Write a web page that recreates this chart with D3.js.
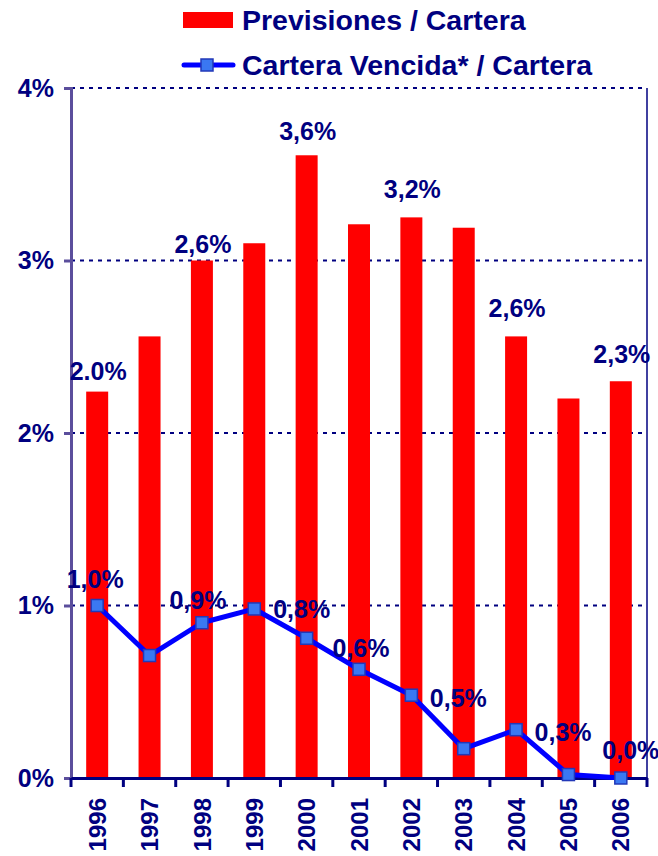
<!DOCTYPE html>
<html>
<head>
<meta charset="utf-8">
<script src="https://cdn.jsdelivr.net/npm/d3@7"></script>
<style>
  body { margin: 0; background: #fff; }
  text { font-family: "Liberation Sans", Arial, sans-serif; font-weight: bold; fill: #000080; }
</style>
</head>
<body>
<div id="chart"></div>
<script>
// categories
var years = ["1996", "1997", "1998", "1999", "2000", "2001", "2002", "2003", "2004", "2005", "2006"];
// Previsiones / Cartera (bars)
var previsiones = [0.0224, 0.0256, 0.0300, 0.0310, 0.0361, 0.0321, 0.0325, 0.0319, 0.0256, 0.0220, 0.0230];
// Cartera Vencida* / Cartera (line)
var vencida = [0.0100, 0.0071, 0.0090, 0.0098, 0.0081, 0.0063, 0.0048, 0.0017, 0.0028, 0.0002, 0.0000];
// data labels as printed
var barLabels = ["2.0%", "", "2,6%", "", "3,6%", "", "3,2%", "", "2,6%", "", "2,3%"];
var lineLabels = ["1,0%", "", "0,9%", "", "0,8%", "0,6%", "0,5%", "", "0,3%", "", "0,0%"];
// y ticks
var yTicks = [0, 0.01, 0.02, 0.03, 0.04];
var yTickLabels = ["0%", "1%", "2%", "3%", "4%"];

var svgWidth = 658;
var svgHeight = 856;
var margin = { left: 71, top: 88, right: 11, bottom: 78 };
var chartWidth = svgWidth - margin.left - margin.right;
var chartHeight = svgHeight - margin.top - margin.bottom;

var svg = d3.select("#chart").append("svg")
    .attr("width", svgWidth)
    .attr("height", svgHeight);

var chartGroup = svg.append("g")
    .attr("transform", `translate(${margin.left}, ${margin.top})`);

var xScale = d3.scaleBand()
    .domain(years)
    .range([0, chartWidth])
    .paddingInner(0.58)
    .paddingOuter(0.29);

var xPoint = d => xScale(d) + xScale.bandwidth() / 2;

var yScale = d3.scaleLinear()
    .domain([0, 0.04])
    .range([chartHeight, 0]);

// dotted grid lines
chartGroup.append("g")
    .selectAll("line")
    .data(yTicks.slice(1))
    .enter()
    .append("line")
    .attr("x1", 0)
    .attr("x2", chartWidth)
    .attr("y1", d => yScale(d))
    .attr("y2", d => yScale(d))
    .attr("stroke", "#000080")
    .attr("stroke-width", 2)
    .attr("stroke-dasharray", "4,5");

// right border
chartGroup.append("line")
    .attr("x1", chartWidth).attr("x2", chartWidth)
    .attr("y1", 0).attr("y2", chartHeight)
    .attr("stroke", "#000080")
    .attr("stroke-width", 1.5);

// bars
chartGroup.selectAll("rect.bar")
    .data(previsiones)
    .enter()
    .append("rect")
    .attr("class", "bar")
    .attr("x", (d, i) => xScale(years[i]))
    .attr("y", d => yScale(d))
    .attr("width", xScale.bandwidth())
    .attr("height", d => chartHeight - yScale(d))
    .attr("fill", "#ff0000");

// y axis
var yAxis = d3.axisLeft(yScale)
    .tickValues(yTicks)
    .tickFormat((d, i) => yTickLabels[i])
    .tickSize(7)
    .tickPadding(10);

var yAxisGroup = chartGroup.append("g").call(yAxis);
yAxisGroup.select(".domain").attr("stroke", "#5b4e9c").attr("stroke-width", 3);
yAxisGroup.selectAll(".tick line").attr("stroke", "#5b4e9c").attr("stroke-width", 3);
yAxisGroup.selectAll(".tick text")
    .attr("font-size", "25px")
    .attr("font-family", null);

// x axis (labels only, ticks at band boundaries)
var xAxis = d3.axisBottom(xScale).tickSize(0);
var xAxisGroup = chartGroup.append("g")
    .attr("transform", `translate(0, ${chartHeight})`)
    .call(xAxis);
xAxisGroup.select(".domain").attr("stroke", "#000080").attr("stroke-width", 3);
xAxisGroup.selectAll(".tick text")
    .attr("font-size", "24px")
    .attr("font-family", null)
    .attr("text-anchor", "end")
    .attr("transform", "rotate(-90)")
    .attr("x", -20)
    .attr("y", 0)
    .attr("dy", "0.36em");

var step = xScale.step();
var boundaries = d3.range(years.length + 1).map(i => xScale(years[0]) - (step - xScale.bandwidth()) / 2 + i * step);
xAxisGroup.selectAll("line.bound")
    .data(boundaries)
    .enter()
    .append("line")
    .attr("class", "bound")
    .attr("x1", d => d).attr("x2", d => d)
    .attr("y1", 0).attr("y2", 9)
    .attr("stroke", "#000080")
    .attr("stroke-width", 3);

// line series
var line = d3.line()
    .x((d, i) => xPoint(years[i]))
    .y(d => yScale(d));

chartGroup.append("path")
    .datum(vencida)
    .attr("d", line)
    .attr("fill", "none")
    .attr("stroke", "#0000ff")
    .attr("stroke-width", 5)
    .attr("stroke-linejoin", "round");

var markerSize = 12;
chartGroup.selectAll("rect.marker")
    .data(vencida)
    .enter()
    .append("rect")
    .attr("class", "marker")
    .attr("x", (d, i) => xPoint(years[i]) - markerSize / 2)
    .attr("y", d => yScale(d) - markerSize / 2)
    .attr("width", markerSize)
    .attr("height", markerSize)
    .attr("fill", "#3a78f2")
    .attr("stroke", "#2238b8")
    .attr("stroke-width", 1.5);

// bar labels (offset from bar top)
var barLabelDy = [-12, 0, -8, 0, -15, 0, -19, 0, -19, 0, -18];
chartGroup.selectAll("text.barLabel")
    .data(previsiones)
    .enter()
    .append("text")
    .attr("class", "barLabel")
    .attr("text-anchor", "middle")
    .attr("font-size", "25px")
    .attr("x", (d, i) => xPoint(years[i]) + 1)
    .attr("y", (d, i) => yScale(d) + barLabelDy[i])
    .text((d, i) => barLabels[i]);

// line labels (offset from marker)
var lineLabelDx = [-2, 0, -4, 0, -5, 2, 47, 0, 47, 0, 10];
var lineLabelDy = [-18, 0, -14, 0, -20, -12, 12, 0, 11, 0, -19];
chartGroup.selectAll("text.lineLabel")
    .data(vencida)
    .enter()
    .append("text")
    .attr("class", "lineLabel")
    .attr("text-anchor", "middle")
    .attr("font-size", "25px")
    .attr("x", (d, i) => xPoint(years[i]) + lineLabelDx[i])
    .attr("y", (d, i) => yScale(d) + lineLabelDy[i])
    .text((d, i) => lineLabels[i]);

// legend
var legend = svg.append("g");
legend.append("rect")
    .attr("x", 183).attr("y", 12)
    .attr("width", 50).attr("height", 16)
    .attr("fill", "#ff0000");
legend.append("text")
    .attr("x", 242).attr("y", 30)
    .attr("font-size", "28.5px")
    .text("Previsiones / Cartera");
legend.append("line")
    .attr("x1", 184).attr("x2", 233)
    .attr("y1", 65).attr("y2", 65)
    .attr("stroke", "#0000ff")
    .attr("stroke-width", 5)
    .attr("stroke-linecap", "round");
legend.append("rect")
    .attr("x", 201).attr("y", 59)
    .attr("width", 12).attr("height", 12)
    .attr("fill", "#3a78f2")
    .attr("stroke", "#2238b8")
    .attr("stroke-width", 1.5);
legend.append("text")
    .attr("x", 242).attr("y", 75)
    .attr("font-size", "28.5px")
    .text("Cartera Vencida* / Cartera");
</script>
</body>
</html>
